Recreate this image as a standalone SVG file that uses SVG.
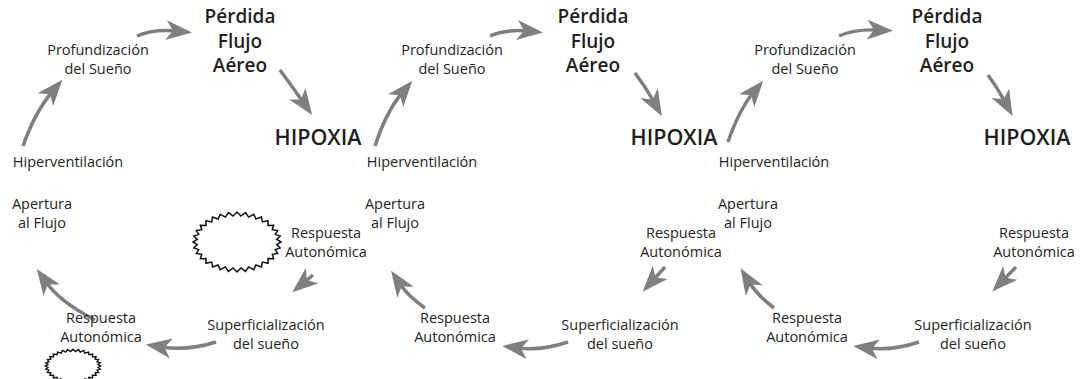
<svg xmlns="http://www.w3.org/2000/svg" xmlns:xlink="http://www.w3.org/1999/xlink" width="1086" height="379" viewBox="0 0 1086 379">
<style>
  .t { font-family: "Open Sans", "Noto Sans", "Liberation Sans", sans-serif; font-size: 14.5px; fill: #231f20; text-anchor: middle; }
  .b { font-family: "Open Sans", "Noto Sans", "Liberation Sans", sans-serif; font-size: 19px; font-weight: 600; fill: #231f20; text-anchor: middle; }
  .h { font-family: "Open Sans", "Noto Sans", "Liberation Sans", sans-serif; font-size: 21.5px; font-weight: 600; fill: #231f20; text-anchor: middle; }
  .c path { fill: none; stroke: #7f7f82; stroke-width: 3.5; marker-end: url(#ah); }
  .z { fill: #ffffff; stroke: #111111; stroke-width: 1.5; stroke-linejoin: miter; }
</style>
<defs>
  <marker id="ah" viewBox="0 0 26 20" markerUnits="userSpaceOnUse" markerWidth="26" markerHeight="20" refX="10" refY="10" orient="auto">
    <path d="M0,0 L26,10 L0,20 L7,10 Z" fill="#7f7f82"/>
  </marker>
  <polygon id="zig" points="44,0 39.81,-2.55 43.16,-5.85 38.28,-7.55 40.65,-11.48 35.28,-12.26 36.59,-16.67 30.92,-16.49 31.11,-21.21 25.38,-20.1 24.45,-24.95 18.86,-22.93 16.84,-27.72 11.61,-24.88 8.58,-29.42 3.92,-25.88 0,-30 -3.92,-25.88 -8.58,-29.42 -11.61,-24.88 -16.84,-27.72 -18.86,-22.93 -24.45,-24.95 -25.38,-20.1 -31.11,-21.21 -30.92,-16.49 -36.59,-16.67 -35.28,-12.26 -40.65,-11.48 -38.28,-7.55 -43.16,-5.85 -39.81,-2.55 -44,0 -39.81,2.55 -43.16,5.85 -38.28,7.55 -40.65,11.48 -35.28,12.26 -36.59,16.67 -30.92,16.49 -31.11,21.21 -25.38,20.1 -24.45,24.95 -18.86,22.93 -16.84,27.72 -11.61,24.88 -8.58,29.42 -3.92,25.88 0,30 3.92,25.88 8.58,29.42 11.61,24.88 16.84,27.72 18.86,22.93 24.45,24.95 25.38,20.1 31.11,21.21 30.92,16.49 36.59,16.67 35.28,12.26 40.65,11.48 38.28,7.55 43.16,5.85 39.81,2.55"/>
</defs>

<g id="decor">
  <use xlink:href="#zig" href="#zig" class="z" transform="translate(237,242)"/>
  <use xlink:href="#zig" href="#zig" class="z" transform="translate(73,366) scale(0.63,0.56)" style="stroke-width:2.4"/>
</g>

<g id="connectors" class="c">
  <path d="M23,146 Q35,112 52,92"/>
  <path d="M137,36 Q153,29 176,31"/>
  <path d="M280,70 Q291,85 303,102"/>
  <path d="M313,275 L304.5,282"/>
  <path d="M216,342 Q188,351 161.5,347"/>
  <path d="M95,320 Q60,302 46,282"/>

  <path d="M375,146 Q386,112 402,93"/>
  <path d="M490,36 Q506,29 527,31"/>
  <path d="M635,73 Q645,86 654,102"/>
  <path d="M665,267 L653.4,279.8"/>
  <path d="M568,342 Q541,351 518,348"/>
  <path d="M425,308 Q408,296 400,284"/>

  <path d="M728,142 Q739,110 753,93"/>
  <path d="M839,36 Q855,29 877,30"/>
  <path d="M988,75 Q997,87 1005,102"/>
  <path d="M1016,267 L1003.4,280"/>
  <path d="M919,342 Q892,351 869,348"/>
  <path d="M774,308 Q757,295 749,282"/>
</g>

<!-- Group 1 -->
<g id="perdida1"><text class="b" x="240" y="23">Pérdida</text><text class="b" x="240" y="48">Flujo</text><text class="b" x="240" y="72">Aéreo</text></g>
<g id="prof1"><text class="t" x="98" y="55">Profundización</text><text class="t" x="98" y="74">del Sueño</text></g>
<g id="hipoxia1"><text class="h" x="318" y="145">HIPOXIA</text></g>
<g id="hiper1"><text class="t" x="68" y="167">Hiperventilación</text></g>
<g id="apertura1"><text class="t" x="42" y="209">Apertura</text><text class="t" x="42" y="228">al Flujo</text></g>
<g id="respA1"><text class="t" x="326" y="238">Respuesta</text><text class="t" x="326" y="257">Autonómica</text></g>
<g id="superf1"><text class="t" x="266" y="330">Superficialización</text><text class="t" x="266" y="349">del sueño</text></g>
<g id="respB1"><text class="t" x="101" y="323">Respuesta</text><text class="t" x="101" y="342">Autonómica</text></g>

<!-- Group 2 -->
<g id="perdida2"><text class="b" x="593" y="23">Pérdida</text><text class="b" x="593" y="48">Flujo</text><text class="b" x="593" y="72">Aéreo</text></g>
<g id="prof2"><text class="t" x="452" y="55">Profundización</text><text class="t" x="452" y="74">del Sueño</text></g>
<g id="hipoxia2"><text class="h" x="674" y="145">HIPOXIA</text></g>
<g id="hiper2"><text class="t" x="422" y="167">Hiperventilación</text></g>
<g id="apertura2"><text class="t" x="395" y="209">Apertura</text><text class="t" x="395" y="228">al Flujo</text></g>
<g id="respA2"><text class="t" x="681" y="238">Respuesta</text><text class="t" x="681" y="257">Autonómica</text></g>
<g id="superf2"><text class="t" x="620" y="330">Superficialización</text><text class="t" x="620" y="349">del sueño</text></g>
<g id="respB2"><text class="t" x="455" y="323">Respuesta</text><text class="t" x="455" y="342">Autonómica</text></g>

<!-- Group 3 -->
<g id="perdida3"><text class="b" x="947" y="23">Pérdida</text><text class="b" x="947" y="48">Flujo</text><text class="b" x="947" y="72">Aéreo</text></g>
<g id="prof3"><text class="t" x="805" y="55">Profundización</text><text class="t" x="805" y="74">del Sueño</text></g>
<g id="hipoxia3"><text class="h" x="1027" y="145">HIPOXIA</text></g>
<g id="hiper3"><text class="t" x="774" y="167">Hiperventilación</text></g>
<g id="apertura3"><text class="t" x="748" y="209">Apertura</text><text class="t" x="748" y="228">al Flujo</text></g>
<g id="respA3"><text class="t" x="1034" y="238">Respuesta</text><text class="t" x="1034" y="257">Autonómica</text></g>
<g id="superf3"><text class="t" x="973" y="330">Superficialización</text><text class="t" x="973" y="349">del sueño</text></g>
<g id="respB3"><text class="t" x="807" y="323">Respuesta</text><text class="t" x="807" y="342">Autonómica</text></g>
</svg>
